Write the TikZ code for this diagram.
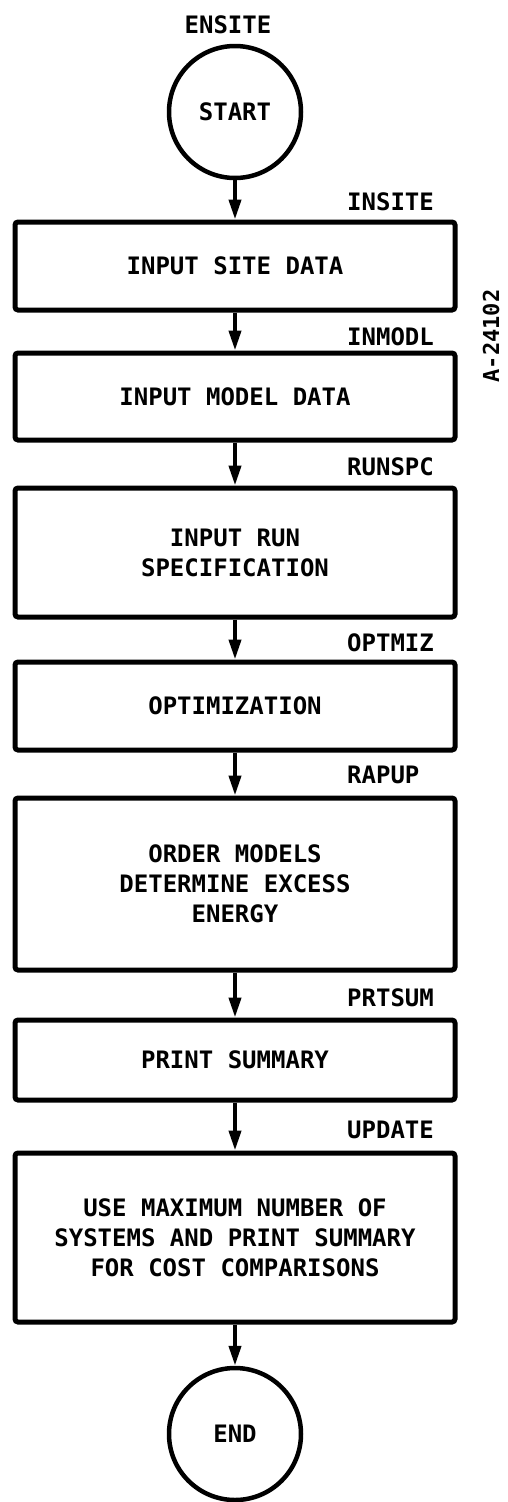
\documentclass[tikz,border=0pt]{standalone}
\usepackage{fontspec}
\newfontfamily\lettering{DejaVu Sans Mono}
\usetikzlibrary{arrows.meta}
\begin{document}
\begin{tikzpicture}[x=1pt,y=-1pt,
  every node/.style={font=\lettering\bfseries\fontsize{24}{30}\selectfont, inner sep=0pt},
  stepbox/.style={draw, line width=5pt, rounded corners=3pt, minimum width=440pt, align=center},
  terminal/.style={draw, circle, line width=4.5pt, minimum size=132pt},
  tag/.style={anchor=west},
  flow/.style={line width=4pt, -{Triangle[length=20pt,width=12pt]}}
]
\useasboundingbox (0,0) rectangle (507,1502);

% terminals
\node[terminal] (start) at (235,112) {START};
\node[terminal] (end) at (235,1434) {END};

% process steps
\node[stepbox, minimum height=88pt]  (b1) at (235,266)   {INPUT SITE DATA};
\node[stepbox, minimum height=87pt]  (b2) at (235,396.5) {INPUT MODEL DATA};
\node[stepbox, minimum height=129pt] (b3) at (235,552.5) {INPUT RUN\\SPECIFICATION};
\node[stepbox, minimum height=88pt]  (b4) at (235,706)   {OPTIMIZATION};
\node[stepbox, minimum height=172pt] (b5) at (235,884)   {ORDER MODELS\\DETERMINE EXCESS\\ENERGY};
\node[stepbox, minimum height=80pt]  (b6) at (235,1060)  {PRINT SUMMARY};
\node[stepbox, minimum height=169pt] (b7) at (235,1237.5) {USE MAXIMUM NUMBER OF\\SYSTEMS AND PRINT SUMMARY\\FOR COST COMPARISONS};

% routine names
\node (lens) at (228,25) {ENSITE};
\node[tag] (l1) at (347,202)  {INSITE};
\node[tag] (l2) at (347,337)  {INMODL};
\node[tag] (l3) at (347,467)  {RUNSPC};
\node[tag] (l4) at (347,643)  {OPTMIZ};
\node[tag] (l5) at (347,775)  {RAPUP};
\node[tag] (l6) at (347,998)  {PRTSUM};
\node[tag] (l7) at (347,1130) {UPDATE};

% drawing number
\node[rotate=90, font=\lettering\bfseries\fontsize{22}{26}\selectfont] (num) at (491,336) {A-24102};

% connectors
\draw[flow] (start) -- (b1);
\draw[flow] (b1) -- (b2);
\draw[flow] (b2) -- (b3);
\draw[flow] (b3) -- (b4);
\draw[flow] (b4) -- (b5);
\draw[flow] (b5) -- (b6);
\draw[flow] (b6) -- (b7);
\draw[flow] (b7) -- (end);
\end{tikzpicture}
\end{document}
